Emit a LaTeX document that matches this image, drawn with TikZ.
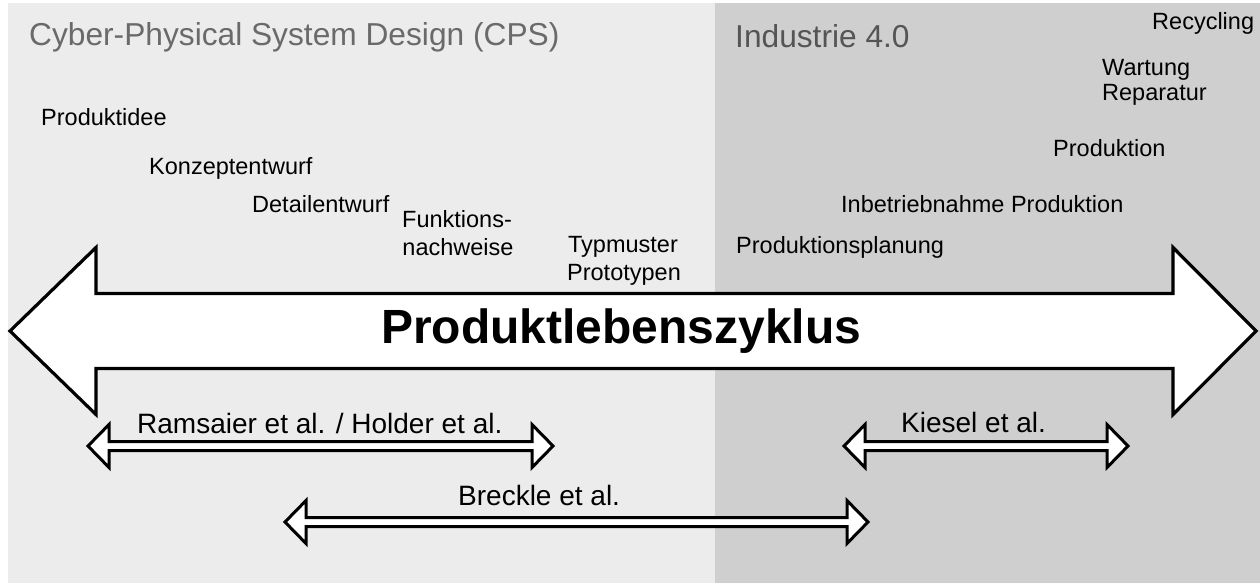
\documentclass[tikz,border=0pt]{standalone}
\usepackage{fontspec}
\setmainfont{Liberation Sans}
\definecolor{cpsbg}{HTML}{ECECEC}
\definecolor{indbg}{HTML}{CFCFCF}
\definecolor{titlegray}{HTML}{6A6A6A}
\definecolor{titledark}{HTML}{555555}
\tikzset{
  panel title/.style={anchor=base west, inner sep=0pt, text=titlegray, font=\fontsize{31.7}{36}\selectfont},
  phase/.style={anchor=base west, inner sep=0pt, font=\fontsize{23.5}{28}\selectfont},
  phase mid/.style={phase, anchor=base},
  span label/.style={anchor=base west, inner sep=0pt, font=\fontsize{28}{33}\selectfont},
  life arrow/.style={draw=black, fill=white, line width=3.2pt, line join=miter},
  span arrow/.style={draw=black, fill=white, line width=3pt, line join=miter},
}
% double-headed outline arrow: tip x left, tip x right, centre y
\newcommand{\spanarrow}[3]{%
  \draw[span arrow] (#1,#3) -- ({#1+21},{#3-21.5}) -- ({#1+21},{#3-4.5})
    -- ({#2-21},{#3-4.5}) -- ({#2-21},{#3-21.5}) -- (#2,#3)
    -- ({#2-21},{#3+21.5}) -- ({#2-21},{#3+4.5}) -- ({#1+21},{#3+4.5})
    -- ({#1+21},{#3+21.5}) -- cycle;}
\begin{document}
\begin{tikzpicture}[x=1pt, y=-1pt]
\useasboundingbox (0,0) rectangle (1260,583);
% background panels
\fill[cpsbg] (8,3) rectangle (715,583);
\fill[indbg] (715,3) rectangle (1260,583);

% panel titles
\node[panel title] (cps) at (29,46) {Cyber-Physical System Design (CPS)};
\node[panel title, text=titledark] (ind) at (735,48) {Industrie 4.0};

% life cycle phases
\node[phase] (idee) at (41,126) {Produktidee};
\node[phase] (konzept) at (149,174) {Konzeptentwurf};
\node[phase] (detail) at (252,212) {Detailentwurf};
\node[phase mid] (funk1) at (457,227) {Funktions-};
\node[phase mid] (funk2) at (458,255) {nachweise};
\node[phase mid] (typ1) at (623,252) {Typmuster};
\node[phase mid] (typ2) at (624,280) {Prototypen};
\node[phase] (planung) at (736,253) {Produktionsplanung};
\node[phase] (inbetrieb) at (841,212) {Inbetriebnahme Produktion};
\node[phase] (produktion) at (1053,157) {Produktion};
\node[phase] (wartung) at (1102,76) {Wartung};
\node[phase] (reparatur) at (1102,101) {Reparatur};
\node[phase] (recycling) at (1152,30) {Recycling};

% main life cycle arrow
\draw[life arrow] (10,331) -- (96,247.5) -- (96,293.5) -- (1173,293.5)
  -- (1173,247.5) -- (1256,331) -- (1173,414.5) -- (1173,368.5)
  -- (96,368.5) -- (96,414.5) -- cycle;
\node[anchor=base west, inner sep=0pt, font=\bfseries\fontsize{48}{56}\selectfont] (plz) at (381,343) {Produktlebenszyklus};

% coverage of the related work
\spanarrow{88}{553}{446}
\node[span label] (ramsaier) at (137,433) {Ramsaier et al. / Holder et al.};
\spanarrow{844}{1128}{446}
\node[span label] (kiesel) at (901,432) {Kiesel et al.};
\spanarrow{285}{868}{522}
\node[span label] (breckle) at (458,505) {Breckle et al.};
\end{tikzpicture}
\end{document}
